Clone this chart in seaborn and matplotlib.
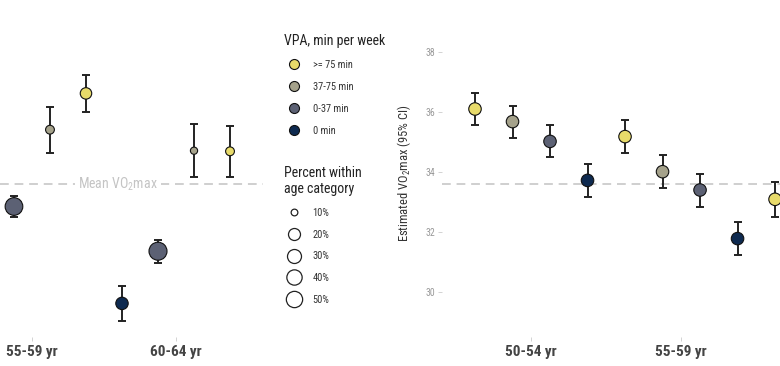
import numpy as np
import pandas as pd
import matplotlib
matplotlib.use("Agg")
import matplotlib.pyplot as plt
from matplotlib.lines import Line2D
import seaborn as sns

# ---------------- data ----------------
levels = [">= 75 min", "37-75 min", "0-37 min", "0 min"]
palette = {">= 75 min": "#E8DB6A", "37-75 min": "#A5A28B", "0-37 min": "#5C6174", "0 min": "#0E2A50"}

# left panel (ordered 0 min -> >=75 min)
left_ages = ["50-54 yr", "55-59 yr", "60-64 yr"]
left_age = ["55-59 yr", "55-59 yr", "55-59 yr", "60-64 yr", "60-64 yr", "60-64 yr", "60-64 yr"]
left_vpa = ["0-37 min", "37-75 min", ">= 75 min", "0 min", "0-37 min", "37-75 min", ">= 75 min"]
left_val = [32.85, 35.41, 36.62, 29.62, 31.36, 34.71, 34.69]
left_err = [0.36, 0.76, 0.63, 0.58, 0.38, 0.89, 0.86]
left_pct = [62, 14, 19, 22, 65, 11, 14]

# right panel (ordered >=75 min -> 0 min)
right_ages = ["45-49 yr", "50-54 yr", "55-59 yr", "60-64 yr"]
right_age = ["50-54 yr"] * 4 + ["55-59 yr"] * 4 + ["60-64 yr"]
right_vpa = [">= 75 min", "37-75 min", "0-37 min", "0 min"] * 2 + [">= 75 min"]
right_val = [36.10, 35.68, 35.02, 33.72, 35.18, 34.01, 33.40, 31.78, 33.09]
right_err = [0.55, 0.53, 0.53, 0.54, 0.54, 0.55, 0.55, 0.55, 0.58]

mean_vo2 = 33.6
y_ticks = [30, 32, 34, 36, 38]
size_breaks = [10, 20, 30, 40, 50]

# ---------------- style ----------------
sns.set_theme(style="white")
FONT = ["Roboto Condensed", "Roboto", "DejaVu Sans"]
plt.rcParams["font.family"] = FONT
plt.rcParams["mathtext.default"] = "regular"

def pct_to_diam(p):
    # marker diameter (px) from percent
    return np.interp(p, [0, 10, 20, 30, 40, 50, 100], [4, 6.7, 12, 14, 15.3, 16.3, 22])

def diam_to_s(d):
    return (d * 0.72) ** 2

W, H = 780, 366
fig = plt.figure(figsize=(W / 100, H / 100), dpi=100)

ybot, ytop = 337, 10
ylim = (28.5, 39.4)
axL = fig.add_axes([0, (H - ybot) / H, 263 / W, (ybot - ytop) / H])
axR = fig.add_axes([442 / W, (H - ybot) / H, (W - 442) / W, (ybot - ytop) / H])

def build(ages, age, vpa, val, err, order):
    df = pd.DataFrame({"age": age, "vpa": vpa, "val": val, "err": err})
    offs = {lv: -0.375 + 0.25 * i for i, lv in enumerate(order)}
    df["x"] = [ages.index(a) + offs[v] for a, v in zip(df["age"], df["vpa"])]
    return df

dfL = build(left_ages, left_age, left_vpa, left_val, left_err, levels[::-1])
dfL["area"] = diam_to_s(pct_to_diam(np.array(left_pct, float)))
dfR = build(right_ages, right_age, right_vpa, right_val, right_err, levels)
dfR["area"] = diam_to_s(12.5)

for ax, df, ages in [(axL, dfL, left_ages), (axR, dfR, right_ages)]:
    ax.axhline(mean_vo2, color="#cfcfcf", lw=1.4, ls=(0, (4.5, 3)), zorder=0)
    ax.errorbar(df["x"], df["val"], yerr=df["err"], fmt="none", ecolor="#222222",
                elinewidth=1.4, capsize=3.2, capthick=1.4, zorder=2)
    amin, amax = df["area"].min(), df["area"].max() + 1e-6
    sns.scatterplot(data=df, x="x", y="val", hue="vpa", palette=palette, size="area",
                    sizes=(amin, amax), size_norm=(amin, amax), edgecolor="#111111",
                    linewidth=0.8, legend=False, ax=ax, zorder=3)
    ax.set_xlabel("")
    ax.set_xticks(range(len(ages)))
    ax.set_xticklabels(ages, fontweight="bold")
    for s in ax.spines.values():
        s.set_visible(False)
    ax.tick_params(axis="x", length=3, width=0.6, color="#cccccc", pad=3,
                   labelsize=11, labelcolor="#444444", bottom=True)
    ax.set_ylim(*ylim)

# left axes
axL.set_xlim(0.778, 2.604)
axL.set_yticks([])
axL.set_ylabel("")
axL.text(0.449, mean_vo2, "Mean VO$_2$max", transform=axL.get_yaxis_transform(),
         ha="center", va="center", fontsize=10, color="#c4c4c4",
         bbox=dict(facecolor="white", edgecolor="none", pad=2), zorder=1)

# right axes
axR.set_xlim(0.405, 2.658)
axR.set_yticks(y_ticks)
axR.set_yticklabels([str(t) for t in y_ticks])
axR.tick_params(axis="y", length=3, width=0.6, color="#cccccc", pad=2,
                labelsize=7, labelcolor="#999999", left=True)
axR.set_ylabel("Estimated VO$_2$max (95% CI)", fontsize=9, color="#333333", labelpad=9)

# legends
h1 = [Line2D([], [], marker="o", ls="", markerfacecolor=palette[l], markeredgecolor="#111111",
             markeredgewidth=0.8, markersize=7.2) for l in levels]
leg1 = fig.legend(h1, levels, title="VPA, min per week", loc="upper left",
                  bbox_to_anchor=(284 / W, 1 - 34 / H), frameon=False, borderpad=0,
                  borderaxespad=0, fontsize=7.5, title_fontsize=10, alignment="left",
                  handlelength=2.0, handletextpad=0.75, labelspacing=1.15)
for t in leg1.get_texts():
    t.set_color("#333333")
leg1.get_title().set_color("#222222")

h2 = [Line2D([], [], marker="o", ls="", markerfacecolor="white", markeredgecolor="#222222",
             markeredgewidth=0.9, markersize=pct_to_diam(p) * 0.72) for p in size_breaks]
leg2 = fig.legend(h2, [f"{p}%" for p in size_breaks], title="Percent within\nage category",
                  loc="upper left", bbox_to_anchor=(284 / W, 1 - 166 / H), frameon=False,
                  borderpad=0, borderaxespad=0, fontsize=7.5, title_fontsize=10,
                  alignment="left", handlelength=2.0, handletextpad=0.75, labelspacing=1.12)
for t in leg2.get_texts():
    t.set_color("#333333")
leg2.get_title().set_color("#222222")

fig.savefig("out.png", dpi=100, facecolor="white")
